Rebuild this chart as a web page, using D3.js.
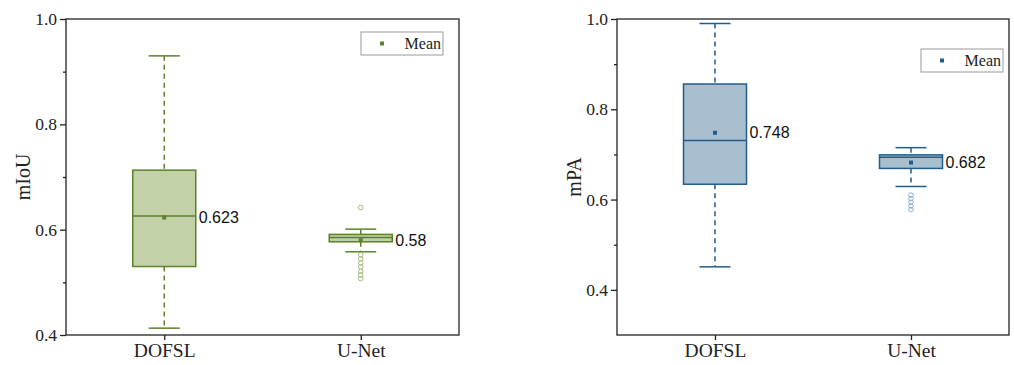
<!DOCTYPE html>
<html>
<head>
<meta charset="utf-8">
<script src="https://cdn.jsdelivr.net/npm/d3@7"></script>
<style>
  body { margin: 0; background: #fff; }
  svg { display: block; }
</style>
</head>
<body>
<script>
var W = 1014, H = 365;

// data
var categories = ["DOFSL", "U-Net"];

var miouStats = [
  { min: 0.413, q1: 0.530, median: 0.626, q3: 0.713, max: 0.930, mean: 0.623, label: "0.623" },
  { min: 0.558, q1: 0.577, median: 0.585, q3: 0.591, max: 0.601, mean: 0.580, label: "0.58" }
];
var miouOutliers = [[], [0.642, 0.552, 0.545, 0.537, 0.529, 0.521, 0.514, 0.507]];

var mpaStats = [
  { min: 0.451, q1: 0.634, median: 0.731, q3: 0.856, max: 0.990, mean: 0.748, label: "0.748" },
  { min: 0.629, q1: 0.669, median: 0.694, q3: 0.699, max: 0.715, mean: 0.682, label: "0.682" }
];
var mpaOutliers = [[], [0.610, 0.602, 0.594, 0.586, 0.578]];

var miouTicks = [0.4, 0.6, 0.8, 1.0];
var miouMinor = [0.5, 0.7, 0.9];
var mpaTicks = [0.4, 0.6, 0.8, 1.0];
var mpaMinor = [0.5, 0.7, 0.9];

var svg = d3.select("body").append("svg")
    .attr("width", W)
    .attr("height", H);

drawPanel({
  left: 66, right: 459, top: 19, bottom: 335,
  domain: [0.4, 1.0], ticks: miouTicks, minor: miouMinor,
  stats: miouStats, outliers: miouOutliers,
  title: "mIoU", titleX: 23,
  stroke: "#5b8229", fill: "#c2d1a8", outlier: "#9fbb82",
  legend: { x: 361, y: 32, w: 82, h: 23 }
});

drawPanel({
  left: 617, right: 1009, top: 19, bottom: 335,
  domain: [0.3, 1.0], ticks: mpaTicks, minor: mpaMinor,
  stats: mpaStats, outliers: mpaOutliers,
  title: "mPA", titleX: 574,
  stroke: "#215c8b", fill: "#a8bfcf", outlier: "#8fb0c8",
  legend: { x: 921, y: 49, w: 82, h: 23 }
});

function drawPanel(p) {
  var g = svg.append("g");

  var x = d3.scalePoint()
      .domain(categories)
      .range([p.left, p.right])
      .padding(0.5);

  var y = d3.scaleLinear()
      .domain(p.domain)
      .range([p.bottom, p.top]);

  var boxW = 63, capW = 31;

  // frame
  g.append("rect")
      .attr("x", p.left).attr("y", p.top)
      .attr("width", p.right - p.left).attr("height", p.bottom - p.top)
      .attr("fill", "none").attr("stroke", "#222").attr("stroke-width", 1.3);

  // y axis
  var yAxis = g.append("g")
      .attr("transform", "translate(" + p.left + ",0)")
      .call(d3.axisLeft(y).tickValues(p.ticks).tickFormat(d3.format(".1f")).tickSize(6).tickPadding(3));
  yAxis.select(".domain").remove();
  yAxis.selectAll("line").attr("stroke", "#222").attr("stroke-width", 1.3);
  yAxis.selectAll("text")
      .attr("font-family", "Liberation Serif, Times New Roman, serif")
      .attr("font-size", 17.5).attr("fill", "#222");

  g.append("g")
      .attr("transform", "translate(" + p.left + ",0)")
      .call(d3.axisLeft(y).tickValues(p.minor).tickFormat("").tickSize(3))
      .call(a => a.select(".domain").remove())
      .selectAll("line").attr("stroke", "#222").attr("stroke-width", 1.3);

  // x axis
  var xAxis = g.append("g")
      .attr("transform", "translate(0," + p.bottom + ")")
      .call(d3.axisBottom(x).tickSize(5).tickPadding(3));
  xAxis.select(".domain").remove();
  xAxis.selectAll("line").attr("stroke", "#222").attr("stroke-width", 1.3);
  xAxis.selectAll("text")
      .attr("font-family", "Liberation Serif, Times New Roman, serif")
      .attr("font-size", 19.5).attr("fill", "#222");

  // axis title
  g.append("text")
      .attr("transform", "translate(" + p.titleX + "," + ((p.top + p.bottom) / 2) + ") rotate(-90)")
      .attr("text-anchor", "middle")
      .attr("dominant-baseline", "central")
      .attr("font-family", "Liberation Serif, Times New Roman, serif")
      .attr("font-size", 20).attr("fill", "#222")
      .text(p.title);

  var box = g.selectAll(".box")
      .data(p.stats)
      .enter().append("g")
      .attr("class", "box");

  // whiskers
  box.append("line")
      .attr("x1", (d, i) => x(categories[i])).attr("x2", (d, i) => x(categories[i]))
      .attr("y1", d => y(d.max)).attr("y2", d => y(d.q3))
      .attr("stroke", p.stroke).attr("stroke-width", 1.5).attr("stroke-dasharray", "5,4");
  box.append("line")
      .attr("x1", (d, i) => x(categories[i])).attr("x2", (d, i) => x(categories[i]))
      .attr("y1", d => y(d.q1)).attr("y2", d => y(d.min))
      .attr("stroke", p.stroke).attr("stroke-width", 1.5).attr("stroke-dasharray", "5,4");

  ["max", "min"].forEach(function (k) {
    box.append("line")
        .attr("x1", (d, i) => x(categories[i]) - capW / 2)
        .attr("x2", (d, i) => x(categories[i]) + capW / 2)
        .attr("y1", d => y(d[k])).attr("y2", d => y(d[k]))
        .attr("stroke", p.stroke).attr("stroke-width", 1.5);
  });

  box.append("rect")
      .attr("x", (d, i) => x(categories[i]) - boxW / 2)
      .attr("y", d => y(d.q3))
      .attr("width", boxW)
      .attr("height", d => y(d.q1) - y(d.q3))
      .attr("fill", p.fill).attr("stroke", p.stroke).attr("stroke-width", 1.5);

  box.append("line")
      .attr("x1", (d, i) => x(categories[i]) - boxW / 2)
      .attr("x2", (d, i) => x(categories[i]) + boxW / 2)
      .attr("y1", d => y(d.median)).attr("y2", d => y(d.median))
      .attr("stroke", p.stroke).attr("stroke-width", 1.5);

  box.append("rect")
      .attr("x", (d, i) => x(categories[i]) - 2)
      .attr("y", d => y(d.mean) - 2)
      .attr("width", 4).attr("height", 4)
      .attr("fill", p.stroke);

  box.append("text")
      .attr("x", (d, i) => x(categories[i]) + boxW / 2 + 3)
      .attr("y", d => y(d.mean))
      .attr("dominant-baseline", "central")
      .attr("font-family", "Liberation Sans, Arial, sans-serif")
      .attr("font-size", 16).attr("fill", "#111")
      .text(d => d.label);

  // outliers
  p.outliers.forEach(function (vals, i) {
    g.selectAll(null)
        .data(vals)
        .enter().append("circle")
        .attr("cx", x(categories[i]))
        .attr("cy", d => y(d))
        .attr("r", 2.3)
        .attr("fill", "none")
        .attr("stroke", p.outlier)
        .attr("stroke-width", 1);
  });

  // legend
  var lg = g.append("g").attr("transform", "translate(" + p.legend.x + "," + p.legend.y + ")");
  lg.append("rect")
      .attr("width", p.legend.w).attr("height", p.legend.h)
      .attr("fill", "#fff").attr("stroke", "#999").attr("stroke-width", 1);
  lg.append("rect")
      .attr("x", 19).attr("y", p.legend.h / 2 - 2)
      .attr("width", 4).attr("height", 4)
      .attr("fill", p.stroke);
  lg.append("text")
      .attr("x", p.legend.w - 2).attr("y", p.legend.h / 2)
      .attr("text-anchor", "end")
      .attr("dominant-baseline", "central")
      .attr("font-family", "Liberation Serif, Times New Roman, serif")
      .attr("font-size", 16).attr("fill", "#222")
      .text("Mean");
}
</script>
</body>
</html>
